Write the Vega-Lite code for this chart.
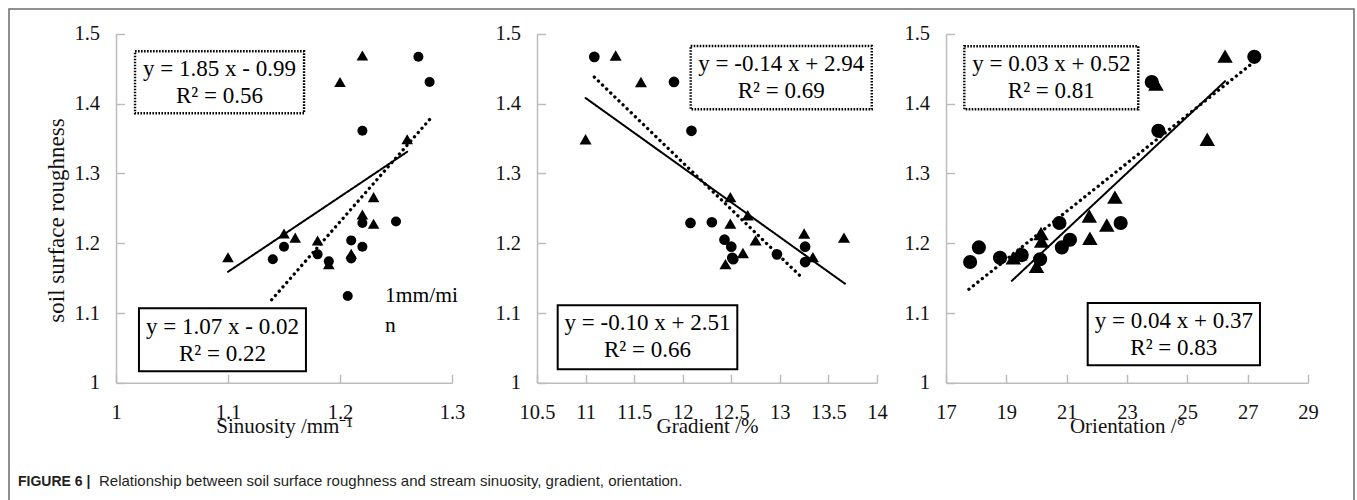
{
  "$schema": "https://vega.github.io/schema/vega-lite/v6.json",
  "width": 1345,
  "height": 491,
  "autosize": "none",
  "padding": {"left": 9, "top": 9, "right": 3, "bottom": 0},
  "background": "white",
  "config": {
    "view": {"stroke": "#6b6b6b", "strokeWidth": 1.5, "strokeDash": [1836, 1345, 491]},
    "axis": {
      "grid": false,
      "domainColor": "#bcbcbc",
      "domainWidth": 1.5,
      "tickColor": "#bcbcbc",
      "tickWidth": 1.5,
      "labelFont": "Liberation Serif",
      "labelFontSize": 20.5,
      "labelColor": "#111111",
      "labelOverlap": false,
      "labelFlush": false,
      "titleFont": "Liberation Serif",
      "titleFontSize": 21,
      "titleFontWeight": "normal",
      "titleColor": "#111111",
      "format": "~g"
    },
    "text": {"font": "Liberation Serif", "color": "#000000"}
  },
  "datasets": {
    "points": [
      {"panel": "sinuosity", "series": "1mm/min", "x": 1.27, "y": 1.467},
      {"panel": "sinuosity", "series": "1mm/min", "x": 1.28, "y": 1.431},
      {"panel": "sinuosity", "series": "1mm/min", "x": 1.22, "y": 1.361},
      {"panel": "sinuosity", "series": "1mm/min", "x": 1.25, "y": 1.231},
      {"panel": "sinuosity", "series": "1mm/min", "x": 1.22, "y": 1.229},
      {"panel": "sinuosity", "series": "1mm/min", "x": 1.21, "y": 1.204},
      {"panel": "sinuosity", "series": "1mm/min", "x": 1.22, "y": 1.195},
      {"panel": "sinuosity", "series": "1mm/min", "x": 1.15, "y": 1.195},
      {"panel": "sinuosity", "series": "1mm/min", "x": 1.14, "y": 1.177},
      {"panel": "sinuosity", "series": "1mm/min", "x": 1.18, "y": 1.184},
      {"panel": "sinuosity", "series": "1mm/min", "x": 1.19, "y": 1.174},
      {"panel": "sinuosity", "series": "1mm/min", "x": 1.21, "y": 1.178},
      {"panel": "sinuosity", "series": "2mm/min", "x": 1.10, "y": 1.180},
      {"panel": "sinuosity", "series": "2mm/min", "x": 1.22, "y": 1.469},
      {"panel": "sinuosity", "series": "2mm/min", "x": 1.20, "y": 1.431},
      {"panel": "sinuosity", "series": "2mm/min", "x": 1.26, "y": 1.349},
      {"panel": "sinuosity", "series": "2mm/min", "x": 1.23, "y": 1.266},
      {"panel": "sinuosity", "series": "2mm/min", "x": 1.22, "y": 1.241},
      {"panel": "sinuosity", "series": "2mm/min", "x": 1.23, "y": 1.228},
      {"panel": "sinuosity", "series": "2mm/min", "x": 1.15, "y": 1.214},
      {"panel": "sinuosity", "series": "2mm/min", "x": 1.16, "y": 1.208},
      {"panel": "sinuosity", "series": "2mm/min", "x": 1.18, "y": 1.204},
      {"panel": "sinuosity", "series": "2mm/min", "x": 1.19, "y": 1.170},
      {"panel": "sinuosity", "series": "2mm/min", "x": 1.21, "y": 1.185},
      {"panel": "gradient", "series": "1mm/min", "x": 11.09, "y": 1.467},
      {"panel": "gradient", "series": "1mm/min", "x": 11.91, "y": 1.431},
      {"panel": "gradient", "series": "1mm/min", "x": 12.09, "y": 1.361},
      {"panel": "gradient", "series": "1mm/min", "x": 12.08, "y": 1.229},
      {"panel": "gradient", "series": "1mm/min", "x": 12.30, "y": 1.230},
      {"panel": "gradient", "series": "1mm/min", "x": 12.43, "y": 1.205},
      {"panel": "gradient", "series": "1mm/min", "x": 12.50, "y": 1.195},
      {"panel": "gradient", "series": "1mm/min", "x": 12.51, "y": 1.179},
      {"panel": "gradient", "series": "1mm/min", "x": 12.97, "y": 1.184},
      {"panel": "gradient", "series": "1mm/min", "x": 13.26, "y": 1.195},
      {"panel": "gradient", "series": "1mm/min", "x": 13.26, "y": 1.173},
      {"panel": "gradient", "series": "1mm/min", "x": 12.52, "y": 1.177},
      {"panel": "gradient", "series": "2mm/min", "x": 11.31, "y": 1.469},
      {"panel": "gradient", "series": "2mm/min", "x": 11.57, "y": 1.431},
      {"panel": "gradient", "series": "2mm/min", "x": 11.00, "y": 1.349},
      {"panel": "gradient", "series": "2mm/min", "x": 12.49, "y": 1.266},
      {"panel": "gradient", "series": "2mm/min", "x": 12.67, "y": 1.240},
      {"panel": "gradient", "series": "2mm/min", "x": 12.49, "y": 1.228},
      {"panel": "gradient", "series": "2mm/min", "x": 13.25, "y": 1.214},
      {"panel": "gradient", "series": "2mm/min", "x": 13.66, "y": 1.208},
      {"panel": "gradient", "series": "2mm/min", "x": 12.75, "y": 1.204},
      {"panel": "gradient", "series": "2mm/min", "x": 12.62, "y": 1.186},
      {"panel": "gradient", "series": "2mm/min", "x": 12.44, "y": 1.170},
      {"panel": "gradient", "series": "2mm/min", "x": 13.34, "y": 1.180},
      {"panel": "orientation", "series": "1mm/min", "x": 27.22, "y": 1.467},
      {"panel": "orientation", "series": "1mm/min", "x": 23.82, "y": 1.431},
      {"panel": "orientation", "series": "1mm/min", "x": 24.04, "y": 1.361},
      {"panel": "orientation", "series": "1mm/min", "x": 17.80, "y": 1.173},
      {"panel": "orientation", "series": "1mm/min", "x": 18.09, "y": 1.194},
      {"panel": "orientation", "series": "1mm/min", "x": 18.79, "y": 1.179},
      {"panel": "orientation", "series": "1mm/min", "x": 19.51, "y": 1.183},
      {"panel": "orientation", "series": "1mm/min", "x": 20.12, "y": 1.177},
      {"panel": "orientation", "series": "1mm/min", "x": 20.76, "y": 1.229},
      {"panel": "orientation", "series": "1mm/min", "x": 20.84, "y": 1.194},
      {"panel": "orientation", "series": "1mm/min", "x": 21.11, "y": 1.205},
      {"panel": "orientation", "series": "1mm/min", "x": 22.79, "y": 1.229},
      {"panel": "orientation", "series": "2mm/min", "x": 26.25, "y": 1.468},
      {"panel": "orientation", "series": "2mm/min", "x": 23.96, "y": 1.428},
      {"panel": "orientation", "series": "2mm/min", "x": 25.66, "y": 1.349},
      {"panel": "orientation", "series": "2mm/min", "x": 22.60, "y": 1.266},
      {"panel": "orientation", "series": "2mm/min", "x": 21.75, "y": 1.239},
      {"panel": "orientation", "series": "2mm/min", "x": 22.33, "y": 1.226},
      {"panel": "orientation", "series": "2mm/min", "x": 21.77, "y": 1.207},
      {"panel": "orientation", "series": "2mm/min", "x": 20.17, "y": 1.203},
      {"panel": "orientation", "series": "2mm/min", "x": 19.23, "y": 1.179},
      {"panel": "orientation", "series": "2mm/min", "x": 20.00, "y": 1.167},
      {"panel": "orientation", "series": "2mm/min", "x": 19.45, "y": 1.185},
      {"panel": "orientation", "series": "2mm/min", "x": 20.15, "y": 1.214}
    ],
    "trends": [
      {"panel": "sinuosity", "series": "2mm/min", "x": 1.10, "y": 1.159},
      {"panel": "sinuosity", "series": "2mm/min", "x": 1.26, "y": 1.331},
      {"panel": "sinuosity", "series": "1mm/min", "x": 1.139, "y": 1.119},
      {"panel": "sinuosity", "series": "1mm/min", "x": 1.281, "y": 1.379},
      {"panel": "gradient", "series": "2mm/min", "x": 11.0, "y": 1.408},
      {"panel": "gradient", "series": "2mm/min", "x": 13.67, "y": 1.142},
      {"panel": "gradient", "series": "1mm/min", "x": 11.09, "y": 1.438},
      {"panel": "gradient", "series": "1mm/min", "x": 13.24, "y": 1.149},
      {"panel": "orientation", "series": "2mm/min", "x": 19.18, "y": 1.146},
      {"panel": "orientation", "series": "2mm/min", "x": 26.25, "y": 1.432},
      {"panel": "orientation", "series": "1mm/min", "x": 17.76, "y": 1.134},
      {"panel": "orientation", "series": "1mm/min", "x": 27.19, "y": 1.459}
    ]
  },
  "layer": [
    {
      "layer": [
        {
          "data": {"name": "points"},
          "transform": [{"filter": "datum.panel === 'sinuosity'"}],
          "mark": {"type": "point", "filled": true, "opacity": 1, "color": "#000000"},
          "encoding": {
            "x": {"field": "x", "type": "quantitative",
              "scale": {"domain": [1, 1.3], "range": [107, 443], "nice": false, "zero": false},
              "axis": {"orient": "bottom", "offset": -117.2, "values": [1, 1.1, 1.2, 1.3], "tickSize": -8.5, "labelPadding": 28, "labelBaseline": "top", "title": "Sinuosity /mm⁻¹", "titleBaseline": "alphabetic", "titleY": 49.5}},
            "y": {"field": "y", "type": "quantitative",
              "scale": {"domain": [1, 1.5], "range": [373.8, 24.8], "nice": false, "zero": false},
              "axis": {"orient": "left", "offset": -107, "values": [1, 1.1, 1.2, 1.3, 1.4, 1.5], "tickSize": -8.5, "labelPadding": 25, "title": "soil surface roughness", "titleFontSize": 23, "titleAngle": -90, "titleBaseline": "middle", "titleAlign": "center", "titleX": -60, "titleY": 211}},
            "shape": {"field": "series", "type": "nominal", "scale": {"domain": ["1mm/min", "2mm/min"], "range": ["circle", "triangle-up"]}, "legend": null},
            "size": {"field": "series", "type": "nominal", "scale": {"domain": ["1mm/min", "2mm/min"], "range": [100, 135]}, "legend": null}
          }
        },
        {
          "data": {"name": "trends"},
          "transform": [{"filter": "datum.panel === 'sinuosity'"}],
          "mark": {"type": "line", "color": "#000000", "strokeCap": "round"},
          "encoding": {
            "x": {"field": "x", "type": "quantitative"},
            "y": {"field": "y", "type": "quantitative"},
            "strokeDash": {"field": "series", "type": "nominal", "scale": {"domain": ["1mm/min", "2mm/min"], "range": [[0.1, 5.6], [1, 0]]}, "legend": null},
            "strokeWidth": {"field": "series", "type": "nominal", "scale": {"domain": ["1mm/min", "2mm/min"], "range": [3.3, 2]}, "legend": null}
          }
        },
        {
          "data": {"values": [{}]},
          "mark": {"type": "rect", "fillOpacity": 0, "stroke": "#000000", "strokeWidth": 2.4, "strokeDash": [1.6, 1.4]},
          "encoding": {
            "x": {"datum": 1.017, "type": "quantitative"},
            "x2": {"datum": 1.1679},
            "y": {"datum": 1.4749, "type": "quantitative"},
            "y2": {"datum": 1.3861}
          }
        },
        {
          "data": {"values": [{}]},
          "mark": {"type": "text", "fontSize": 23, "align": "center", "baseline": "middle", "lineHeight": 27},
          "encoding": {
            "x": {"datum": 1.0924, "type": "quantitative"},
            "y": {"datum": 1.4496, "type": "quantitative"},
            "text": {"value": ["y = 1.85 x - 0.99", "R² = 0.56"]}
          }
        },
        {
          "data": {"values": [{}]},
          "mark": {"type": "rect", "fillOpacity": 0, "stroke": "#000000", "strokeWidth": 2},
          "encoding": {
            "x": {"datum": 1.0205, "type": "quantitative"},
            "x2": {"datum": 1.1696},
            "y": {"datum": 1.1067, "type": "quantitative"},
            "y2": {"datum": 1.0165}
          }
        },
        {
          "data": {"values": [{}]},
          "mark": {"type": "text", "fontSize": 23, "align": "center", "baseline": "middle", "lineHeight": 27},
          "encoding": {
            "x": {"datum": 1.0951, "type": "quantitative"},
            "y": {"datum": 1.0799, "type": "quantitative"},
            "text": {"value": ["y = 1.07 x - 0.02", "R² = 0.22"]}
          }
        },
        {
          "data": {"values": [{}]},
          "mark": {"type": "point", "filled": true, "opacity": 1, "color": "#000000", "shape": "circle", "size": 100},
          "encoding": {
            "x": {"datum": 1.2069, "type": "quantitative"},
            "y": {"datum": 1.1244, "type": "quantitative"}
          }
        },
        {
          "data": {"values": [{}]},
          "mark": {"type": "text", "fontSize": 21.5, "align": "left", "baseline": "middle", "lineHeight": 30},
          "encoding": {
            "x": {"datum": 1.2402, "type": "quantitative"},
            "y": {"datum": 1.1244, "type": "quantitative"},
            "text": {"value": ["1mm/mi", "n"]}
          }
        },
        {
          "data": {"values": [{}]},
          "mark": {"type": "text", "font": "Liberation Sans", "fontWeight": "bold", "fontSize": 14, "align": "left", "baseline": "alphabetic", "color": "#231f20"},
          "encoding": {
            "x": {"datum": 0.9125, "type": "quantitative"},
            "y": {"datum": 0.8521, "type": "quantitative"},
            "text": {"value": "FIGURE 6 |"}
          }
        },
        {
          "data": {"values": [{}]},
          "mark": {"type": "text", "font": "Liberation Sans", "fontSize": 15, "align": "left", "baseline": "alphabetic", "color": "#231f20"},
          "encoding": {
            "x": {"datum": 0.9848, "type": "quantitative"},
            "y": {"datum": 0.8521, "type": "quantitative"},
            "text": {"value": "Relationship between soil surface roughness and stream sinuosity, gradient, orientation."}
          }
        }
      ]
    },
    {
      "layer": [
        {
          "data": {"name": "points"},
          "transform": [{"filter": "datum.panel === 'gradient'"}],
          "mark": {"type": "point", "filled": true, "opacity": 1, "color": "#000000"},
          "encoding": {
            "x": {"field": "x", "type": "quantitative",
              "scale": {"domain": [10.5, 14], "range": [528, 868], "nice": false, "zero": false},
              "axis": {"orient": "bottom", "offset": -117.2, "values": [10.5, 11, 11.5, 12, 12.5, 13, 13.5, 14], "tickSize": -8.5, "labelPadding": 28, "labelBaseline": "top", "title": "Gradient /%", "titleBaseline": "alphabetic", "titleY": 49.5}},
            "y": {"field": "y", "type": "quantitative",
              "scale": {"domain": [1, 1.5], "range": [373.8, 24.8], "nice": false, "zero": false},
              "axis": {"orient": "left", "offset": -528, "values": [1, 1.1, 1.2, 1.3, 1.4, 1.5], "tickSize": -8.5, "labelPadding": 25, "title": null}},
            "shape": {"field": "series", "type": "nominal", "scale": {"domain": ["1mm/min", "2mm/min"], "range": ["circle", "triangle-up"]}, "legend": null},
            "size": {"field": "series", "type": "nominal", "scale": {"domain": ["1mm/min", "2mm/min"], "range": [115, 145]}, "legend": null}
          }
        },
        {
          "data": {"name": "trends"},
          "transform": [{"filter": "datum.panel === 'gradient'"}],
          "mark": {"type": "line", "color": "#000000", "strokeCap": "round"},
          "encoding": {
            "x": {"field": "x", "type": "quantitative"},
            "y": {"field": "y", "type": "quantitative"},
            "strokeDash": {"field": "series", "type": "nominal", "scale": {"domain": ["1mm/min", "2mm/min"], "range": [[0.1, 5.6], [1, 0]]}, "legend": null},
            "strokeWidth": {"field": "series", "type": "nominal", "scale": {"domain": ["1mm/min", "2mm/min"], "range": [3.3, 2]}, "legend": null}
          }
        },
        {
          "data": {"values": [{}]},
          "mark": {"type": "rect", "fillOpacity": 0, "stroke": "#000000", "strokeWidth": 2.4, "strokeDash": [1.6, 1.4]},
          "encoding": {
            "x": {"datum": 12.082, "type": "quantitative"},
            "x2": {"datum": 13.946},
            "y": {"datum": 1.4825, "type": "quantitative"},
            "y2": {"datum": 1.3918}
          }
        },
        {
          "data": {"values": [{}]},
          "mark": {"type": "text", "fontSize": 23, "align": "center", "baseline": "middle", "lineHeight": 27},
          "encoding": {
            "x": {"datum": 13.014, "type": "quantitative"},
            "y": {"datum": 1.4563, "type": "quantitative"},
            "text": {"value": ["y = -0.14 x + 2.94", "R² = 0.69"]}
          }
        },
        {
          "data": {"values": [{}]},
          "mark": {"type": "rect", "fillOpacity": 0, "stroke": "#000000", "strokeWidth": 2},
          "encoding": {
            "x": {"datum": 10.713, "type": "quantitative"},
            "x2": {"datum": 12.562},
            "y": {"datum": 1.1110, "type": "quantitative"},
            "y2": {"datum": 1.0193}
          }
        },
        {
          "data": {"values": [{}]},
          "mark": {"type": "text", "fontSize": 23, "align": "center", "baseline": "middle", "lineHeight": 27},
          "encoding": {
            "x": {"datum": 11.6375, "type": "quantitative"},
            "y": {"datum": 1.0852, "type": "quantitative"},
            "text": {"value": ["y = -0.10 x + 2.51", "R² = 0.66"]}
          }
        }
      ]
    },
    {
      "layer": [
        {
          "data": {"name": "points"},
          "transform": [{"filter": "datum.panel === 'orientation'"}],
          "mark": {"type": "point", "filled": true, "opacity": 1, "color": "#000000"},
          "encoding": {
            "x": {"field": "x", "type": "quantitative",
              "scale": {"domain": [17, 29], "range": [937, 1299], "nice": false, "zero": false},
              "axis": {"orient": "bottom", "offset": -117.2, "values": [17, 19, 21, 23, 25, 27, 29], "tickSize": -8.5, "labelPadding": 28, "labelBaseline": "top", "title": "Orientation /°", "titleBaseline": "alphabetic", "titleY": 49.5}},
            "y": {"field": "y", "type": "quantitative",
              "scale": {"domain": [1, 1.5], "range": [373.8, 24.8], "nice": false, "zero": false},
              "axis": {"orient": "left", "offset": -937, "values": [1, 1.1, 1.2, 1.3, 1.4, 1.5], "tickSize": -8.5, "labelPadding": 25, "title": null}},
            "shape": {"field": "series", "type": "nominal", "scale": {"domain": ["1mm/min", "2mm/min"], "range": ["circle", "triangle-up"]}, "legend": null},
            "size": {"field": "series", "type": "nominal", "scale": {"domain": ["1mm/min", "2mm/min"], "range": [200, 240]}, "legend": null}
          }
        },
        {
          "data": {"name": "trends"},
          "transform": [{"filter": "datum.panel === 'orientation'"}],
          "mark": {"type": "line", "color": "#000000", "strokeCap": "round"},
          "encoding": {
            "x": {"field": "x", "type": "quantitative"},
            "y": {"field": "y", "type": "quantitative"},
            "strokeDash": {"field": "series", "type": "nominal", "scale": {"domain": ["1mm/min", "2mm/min"], "range": [[0.1, 5.6], [1, 0]]}, "legend": null},
            "strokeWidth": {"field": "series", "type": "nominal", "scale": {"domain": ["1mm/min", "2mm/min"], "range": [3.3, 2]}, "legend": null}
          }
        },
        {
          "data": {"values": [{}]},
          "mark": {"type": "rect", "fillOpacity": 0, "stroke": "#000000", "strokeWidth": 2.4, "strokeDash": [1.6, 1.4]},
          "encoding": {
            "x": {"datum": 17.607, "type": "quantitative"},
            "x2": {"datum": 23.374},
            "y": {"datum": 1.4821, "type": "quantitative"},
            "y2": {"datum": 1.3918}
          }
        },
        {
          "data": {"values": [{}]},
          "mark": {"type": "text", "fontSize": 23, "align": "center", "baseline": "middle", "lineHeight": 27},
          "encoding": {
            "x": {"datum": 20.49, "type": "quantitative"},
            "y": {"datum": 1.4563, "type": "quantitative"},
            "text": {"value": ["y = 0.03 x + 0.52", "R² = 0.81"]}
          }
        },
        {
          "data": {"values": [{}]},
          "mark": {"type": "rect", "fillOpacity": 0, "stroke": "#000000", "strokeWidth": 2},
          "encoding": {
            "x": {"datum": 21.697, "type": "quantitative"},
            "x2": {"datum": 27.408},
            "y": {"datum": 1.1143, "type": "quantitative"},
            "y2": {"datum": 1.0251}
          }
        },
        {
          "data": {"values": [{}]},
          "mark": {"type": "text", "fontSize": 23, "align": "center", "baseline": "middle", "lineHeight": 27},
          "encoding": {
            "x": {"datum": 24.551, "type": "quantitative"},
            "y": {"datum": 1.0890, "type": "quantitative"},
            "text": {"value": ["y = 0.04 x + 0.37", "R² = 0.83"]}
          }
        }
      ]
    }
  ],
  "resolve": {
    "scale": {"x": "independent", "y": "independent", "shape": "independent", "size": "independent", "strokeDash": "independent", "strokeWidth": "independent"},
    "axis": {"x": "independent", "y": "independent"}
  }
}
